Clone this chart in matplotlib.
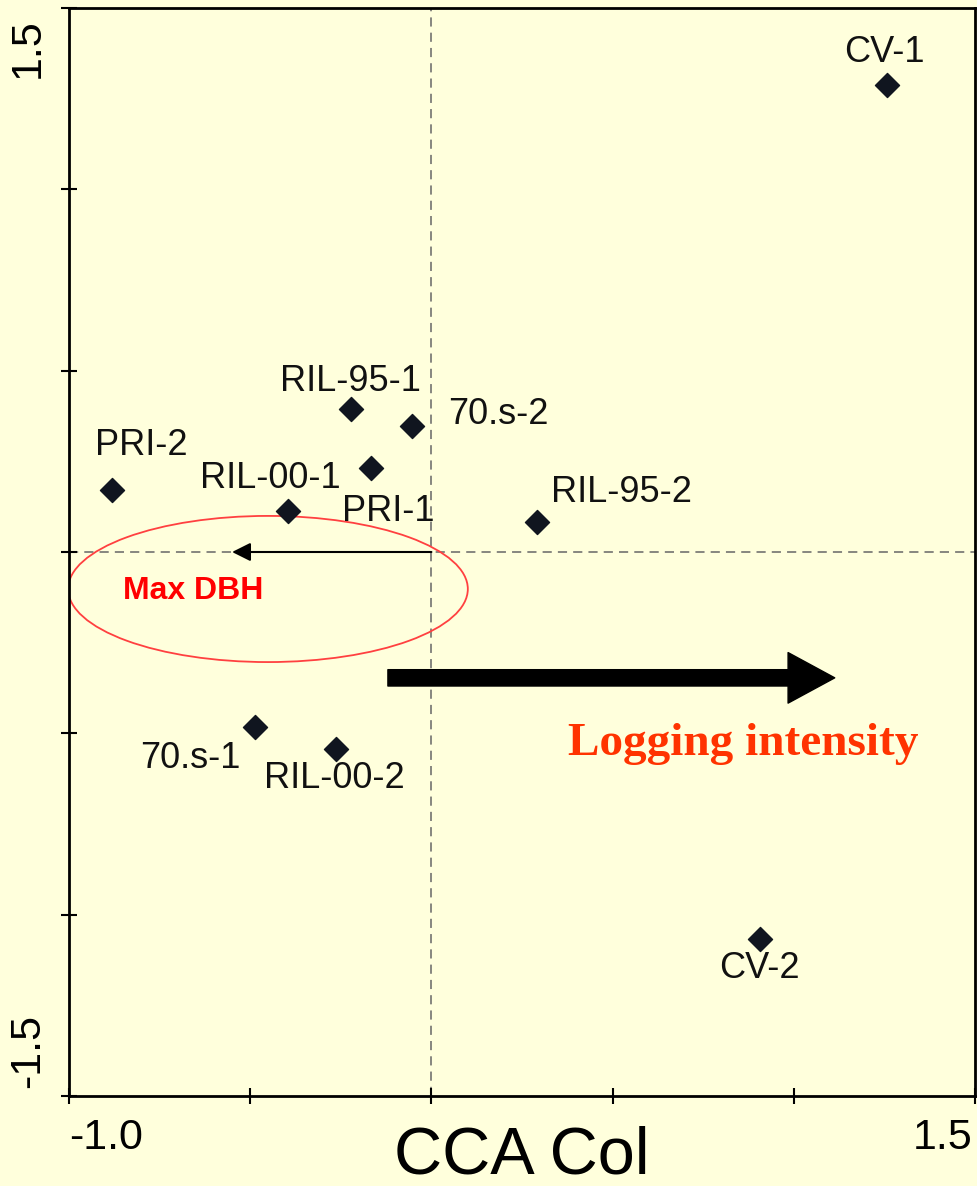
import matplotlib.pyplot as plt
from matplotlib.patches import Ellipse

# data
sites = ['CV-1', 'RIL-95-1', '70.s-2', 'PRI-2', 'PRI-1', 'RIL-00-1',
         'RIL-95-2', '70.s-1', 'RIL-00-2', 'CV-2']
cca1 = [1.256, -0.222, -0.054, -0.881, -0.167, -0.396, 0.291, -0.487, -0.264, 0.908]
cca2 = [1.288, 0.394, 0.347, 0.171, 0.232, 0.113, 0.083, -0.482, -0.543, -1.067]

# label offsets in pixels (dx, dy)
offsets = [(-2, 32), (-1, 28), (87, 12), (29, 44), (17, -44), (-18, 33),
           (85, 29), (-65, -32), (-1, -30), (-1, -30)]

# max DBH vector and logging intensity arrow
dbh_vec = (-0.55, 0.0)
log_start = (-0.12, -0.347)
log_end = (1.113, -0.347)

bg = '#FFFFDC'
plt.rcParams['font.family'] = ['Liberation Sans', 'DejaVu Sans']

fig = plt.figure(figsize=(9.77, 11.86), dpi=100, facecolor=bg)
ax = fig.add_axes([69/977, 1 - 1096/1186, 906/977, 1088/1186])
ax.set_facecolor(bg)
ax.set_xlim(-1.0, 1.5)
ax.set_ylim(-1.5, 1.5)

# zero lines
ax.axvline(0, color='#666666', lw=1.1, ls=(0, (6, 4)), zorder=1)
ax.axhline(0, color='#666666', lw=1.1, ls=(0, (6, 4)), zorder=1)

ax.scatter(cca1, cca2, marker='D', s=150, color='#10151f', zorder=3)
for name, x, y, off in zip(sites, cca1, cca2, offsets):
    ax.annotate(name, (x, y), xytext=off, textcoords='offset pixels',
                ha='center', va='center', fontsize=26, color='#111111')

# Max DBH arrow
ax.annotate('', xy=dbh_vec, xytext=(0, 0),
            arrowprops=dict(arrowstyle='-|>', color='black', lw=1.5,
                            mutation_scale=28, shrinkA=0, shrinkB=0), zorder=2)
ax.add_patch(Ellipse((-0.451, -0.102), 1.103, 0.403, fill=False,
                     edgecolor='#FF4040', lw=1.3, zorder=2))
ax.text(-0.658, -0.108, 'Max DBH', color='red', fontsize=23, fontweight='bold',
        ha='center', va='center')

# Logging intensity arrow
ax.annotate('', xy=log_end, xytext=log_start,
            arrowprops=dict(arrowstyle='simple,head_length=1.2,head_width=1.3,tail_width=0.42',
                            color='black', mutation_scale=28, shrinkA=0, shrinkB=0), zorder=2)
ax.text(0.377, -0.53, 'Logging intensity', color='#FF3300', fontsize=34,
        fontweight='bold', family='Liberation Serif', ha='left', va='center')

# ticks
ax.set_xticks([-1.0, -0.5, 0, 0.5, 1.0, 1.5])
ax.set_yticks([-1.5, -1.0, -0.5, 0, 0.5, 1.0, 1.5])
ax.set_xticklabels([])
ax.set_yticklabels([])
ax.tick_params(direction='inout', length=12, width=1.5)
for s in ax.spines.values():
    s.set_linewidth(2)

ax.annotate('-1.0', (-1.0, 0), xycoords=('data', 'axes fraction'), xytext=(0, -22),
            textcoords='offset pixels', ha='left', va='top', fontsize=31)
ax.annotate('1.5', (1.5, 0), xycoords=('data', 'axes fraction'), xytext=(-2, -22),
            textcoords='offset pixels', ha='right', va='top', fontsize=31)
ax.annotate('1.5', (0, 1.5), xycoords=('axes fraction', 'data'), xytext=(-21, -10),
            textcoords='offset pixels', ha='right', va='top', rotation=90, fontsize=31)
ax.annotate('-1.5', (0, -1.5), xycoords=('axes fraction', 'data'), xytext=(-21, 8),
            textcoords='offset pixels', ha='right', va='bottom', rotation=90, fontsize=31)

ax.set_xlabel('CCA Col', fontsize=48, labelpad=12)

fig.savefig('out.png', dpi=100, facecolor=bg)
